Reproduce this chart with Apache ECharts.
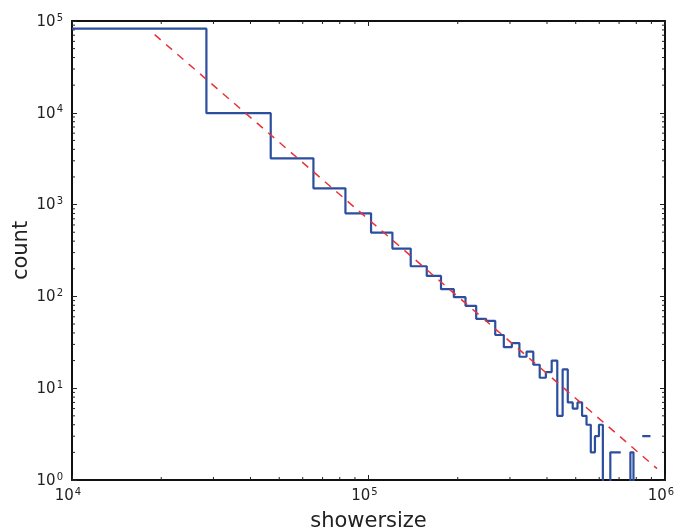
<!DOCTYPE html>
<html>
<head>
<meta charset="utf-8">
<script src="https://cdn.jsdelivr.net/npm/echarts@6/dist/echarts.min.js"></script>
<style>html,body{margin:0;padding:0;background:#fff}#c{width:678px;height:529px}</style>
</head>
<body>
<div id="c"></div>
<script>
// ---- data ----
const binStart = 10000;      // left edge of the first histogram bin
const binWidth = 18400;      // linear bin width
const counts = [82500, 9900, 3190, 1504, 804, 496, 332, 213, 167, 120,
                98, 79, 57, 54, 38, 28, 31, 22, 25, 18,
                13, 15, 20, 5, 16, 7, 6, 7, 5, 4,
                2, 3, 4, 0, 0, 2, 2, 2, 0, 0,
                0, 2, 0, 0, 0, 3, 3, 3];
const hiddenEdges = [38, 45, 48];   // bin edges where the reference shows no vertical step
const fitX = [19000, 940000];
const fitY = [71000, 1.33];
const xMinorTicks = [2e4,3e4,4e4,5e4,6e4,7e4,8e4,9e4,2e5,3e5,4e5,5e5,6e5,7e5,8e5,9e5];
const yMinorTicks = [];
[1,10,100,1000,10000].forEach(d => { for (let m = 2; m <= 9; m++) yMinorTicks.push(d*m); });

const FLOOR = 0.3; // empty bins sit below the axis and are clipped
const stepData = [];
counts.forEach((c, k) => {
  const x0 = binStart + k*binWidth, x1 = x0 + binWidth;
  const y = c > 0 ? c : FLOOR;
  if (hiddenEdges.indexOf(k) >= 0) stepData.push([x0, '-']);
  stepData.push([x0, y]);
  stepData.push([x1, y]);
});

const FONT = 'DejaVu Sans';
const supFmt = v => '{b|10}{s|' + Math.round(Math.log10(v)) + '}';
const rich = {
  b: {fontSize: 15, fontFamily: FONT, color: '#222', lineHeight: 16, padding: [2,0,0,0]},
  s: {fontSize: 10, fontFamily: FONT, color: '#222', lineHeight: 10, verticalAlign: 'top', padding: [0,0,0,1]}
};
const axisLineStyle = {show: true, lineStyle: {color: '#111', width: 2}};
const tickStyle = {show: true, inside: true, length: 5, lineStyle: {color: '#222', width: 1}};

const chart = echarts.init(document.getElementById('c'), null, {renderer: 'canvas'});
chart.setOption({
  animation: false,
  backgroundColor: '#fff',
  grid: {left: 72, top: 21, width: 593, height: 459, containLabel: false, outerBoundsMode: 'none'},
  xAxis: [
    {type: 'log', logBase: 10, min: 1e4, max: 1e6, position: 'bottom',
     name: 'showersize', nameLocation: 'middle', nameGap: 31, nameMoveOverlap: false,
     nameTextStyle: {fontSize: 21, fontFamily: FONT, color: '#222'},
     axisLine: axisLineStyle, axisTick: tickStyle, splitLine: {show: false},
     axisLabel: {margin: 7, formatter: supFmt, rich: rich, padding: [0, 8, 0, 0]}},
    {type: 'log', logBase: 10, min: 1e4, max: 1e6, position: 'top',
     axisLine: axisLineStyle, axisTick: tickStyle, splitLine: {show: false},
     axisLabel: {show: false}}
  ],
  yAxis: [
    {type: 'log', logBase: 10, min: 1, max: 1e5, position: 'left',
     name: 'count', nameLocation: 'middle', nameGap: 40, nameRotate: 90, nameMoveOverlap: false,
     nameTextStyle: {fontSize: 21, fontFamily: FONT, color: '#222'},
     axisLine: axisLineStyle, axisTick: tickStyle, splitLine: {show: false},
     axisLabel: {margin: 9, formatter: supFmt, rich: rich}},
    {type: 'log', logBase: 10, min: 1, max: 1e5, position: 'right',
     axisLine: axisLineStyle, axisTick: tickStyle, splitLine: {show: false},
     axisLabel: {show: false}}
  ],
  series: [
    {type: 'custom', xAxisIndex: 0, yAxisIndex: 0, silent: true, z: 1,
     data: xMinorTicks.map(v => [v, 10]),
     renderItem: (params, api) => {
       const p = api.coord([api.value(0), api.value(1)]);
       const cs = params.coordSys;
       return {type: 'group', children: [
         {type: 'line', shape: {x1: p[0], y1: cs.y + cs.height, x2: p[0], y2: cs.y + cs.height - 3}, style: {stroke: '#222', lineWidth: 1}},
         {type: 'line', shape: {x1: p[0], y1: cs.y, x2: p[0], y2: cs.y + 3}, style: {stroke: '#222', lineWidth: 1}}
       ]};
     }},
    {type: 'custom', xAxisIndex: 0, yAxisIndex: 0, silent: true, z: 1,
     data: yMinorTicks.map(v => [2e5, v]),
     renderItem: (params, api) => {
       const p = api.coord([api.value(0), api.value(1)]);
       const cs = params.coordSys;
       return {type: 'group', children: [
         {type: 'line', shape: {x1: cs.x, y1: p[1], x2: cs.x + 3, y2: p[1]}, style: {stroke: '#222', lineWidth: 1}},
         {type: 'line', shape: {x1: cs.x + cs.width, y1: p[1], x2: cs.x + cs.width - 3, y2: p[1]}, style: {stroke: '#222', lineWidth: 1}}
       ]};
     }},
    {type: 'line', xAxisIndex: 0, yAxisIndex: 0, data: stepData, showSymbol: false, symbol: 'none',
     clip: true, connectNulls: false, z: 3,
     lineStyle: {color: '#2c4e9e', width: 2.2}},
    {type: 'line', xAxisIndex: 0, yAxisIndex: 0, data: fitX.map((x, i) => [x, fitY[i]]),
     showSymbol: false, symbol: 'none', clip: true, z: 4,
     lineStyle: {color: '#e8323a', width: 1.5, type: [8, 7]}}
  ]
});
</script>
</body>
</html>
